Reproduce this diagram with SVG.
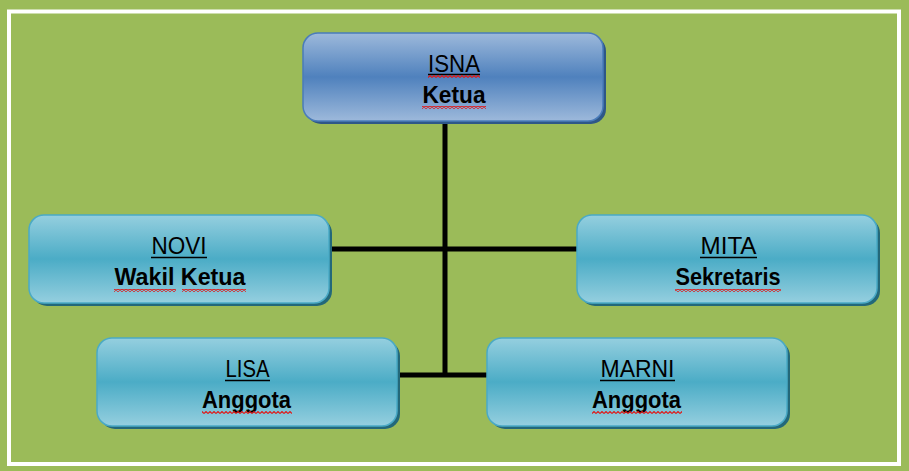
<svg xmlns="http://www.w3.org/2000/svg" width="909" height="471" viewBox="0 0 909 471">
<defs>
<linearGradient id="gBlue" x1="0" y1="0" x2="0" y2="1">
<stop offset="0" stop-color="#9DB9DB"/>
<stop offset="0.5" stop-color="#4F81BD"/>
<stop offset="1" stop-color="#9DB9DB"/>
</linearGradient>
<linearGradient id="gTeal" x1="0" y1="0" x2="0" y2="1">
<stop offset="0" stop-color="#95CFDF"/>
<stop offset="0.5" stop-color="#4BACC6"/>
<stop offset="1" stop-color="#95CFDF"/>
</linearGradient>
<pattern id="sq" width="4" height="3" patternUnits="userSpaceOnUse">
<polyline points="0,2.5 2,0.5 4,2.5" fill="none" stroke="#E01818" stroke-width="1.1"/>
</pattern>
</defs>
<style>
.shadowB{fill:#2E5788}
.shadowT{fill:#23687A}
.boxB{fill:url(#gBlue);stroke:#4A7CBA;stroke-width:1.5}
.boxT{fill:url(#gTeal);stroke:#4AAAC6;stroke-width:1.5}
.name{font-family:"Liberation Sans",Arial,sans-serif;font-size:23px;fill:#000;text-anchor:middle}
.title{font-family:"Liberation Sans",Arial,sans-serif;font-size:23px;font-weight:bold;fill:#000;text-anchor:middle}
.ul{stroke:#000;stroke-width:1.6}
.sq{fill:url(#sq)}
.conn{stroke:#000;stroke-width:5;fill:none}
</style>
<rect x="0" y="0" width="909" height="471" fill="#9BBB59"/>
<rect x="9" y="11.5" width="890" height="452.5" fill="none" stroke="#FFFFFF" stroke-width="4"/>

<g id="connectors">
<line class="conn" x1="445" y1="121" x2="445" y2="377"/>
<line class="conn" x1="330" y1="249" x2="578" y2="249"/>
<line class="conn" x1="397" y1="375" x2="488" y2="375"/>
</g>

<g id="isna">
<rect class="shadowB" x="306" y="36" width="300" height="88" rx="15"/>
<rect class="boxB" x="303" y="33" width="300" height="88" rx="15"/>
<text class="name" x="454" y="72" textLength="52" lengthAdjust="spacingAndGlyphs">ISNA</text>
<line class="ul" x1="428" y1="74.5" x2="480" y2="74.5"/>
<rect class="sq" x="428" y="75" width="52" height="3"/>
<text class="title" x="454" y="103" textLength="63" lengthAdjust="spacingAndGlyphs">Ketua</text>
<rect class="sq" x="422" y="106" width="64" height="3"/>
</g>

<g id="novi">
<rect class="shadowT" x="32" y="218" width="300" height="88" rx="15"/>
<rect class="boxT" x="29" y="215" width="300" height="88" rx="15"/>
<text class="name" x="179" y="254" textLength="55" lengthAdjust="spacingAndGlyphs">NOVI</text>
<line class="ul" x1="151" y1="257.5" x2="207" y2="257.5"/>
<text class="title" x="180" y="285" textLength="131" lengthAdjust="spacingAndGlyphs">Wakil Ketua</text>
<rect class="sq" x="114" y="289" width="62" height="3"/>
<rect class="sq" x="182" y="289" width="64" height="3"/>
</g>

<g id="mita">
<rect class="shadowT" x="580" y="218" width="300" height="88" rx="15"/>
<rect class="boxT" x="577" y="215" width="300" height="88" rx="15"/>
<text class="name" x="728.5" y="254" textLength="56" lengthAdjust="spacingAndGlyphs">MITA</text>
<line class="ul" x1="700" y1="257.5" x2="757" y2="257.5"/>
<text class="title" x="728" y="285" textLength="105" lengthAdjust="spacingAndGlyphs">Sekretaris</text>
<rect class="sq" x="675" y="289" width="106" height="3"/>
</g>

<g id="lisa">
<rect class="shadowT" x="100" y="341" width="300" height="88" rx="15"/>
<rect class="boxT" x="97" y="338" width="300" height="88" rx="15"/>
<text class="name" x="247.5" y="377" textLength="44" lengthAdjust="spacingAndGlyphs">LISA</text>
<line class="ul" x1="225" y1="380.5" x2="270" y2="380.5"/>
<text class="title" x="246.5" y="408" textLength="89" lengthAdjust="spacingAndGlyphs">Anggota</text>
<rect class="sq" x="202" y="411" width="90" height="3"/>
</g>

<g id="marni">
<rect class="shadowT" x="490" y="341" width="300" height="88" rx="15"/>
<rect class="boxT" x="487" y="338" width="300" height="88" rx="15"/>
<text class="name" x="637.5" y="377" textLength="74" lengthAdjust="spacingAndGlyphs">MARNI</text>
<line class="ul" x1="600" y1="380.5" x2="675" y2="380.5"/>
<text class="title" x="636.5" y="408" textLength="89" lengthAdjust="spacingAndGlyphs">Anggota</text>
<rect class="sq" x="592" y="411" width="90" height="3"/>
</g>
</svg>
